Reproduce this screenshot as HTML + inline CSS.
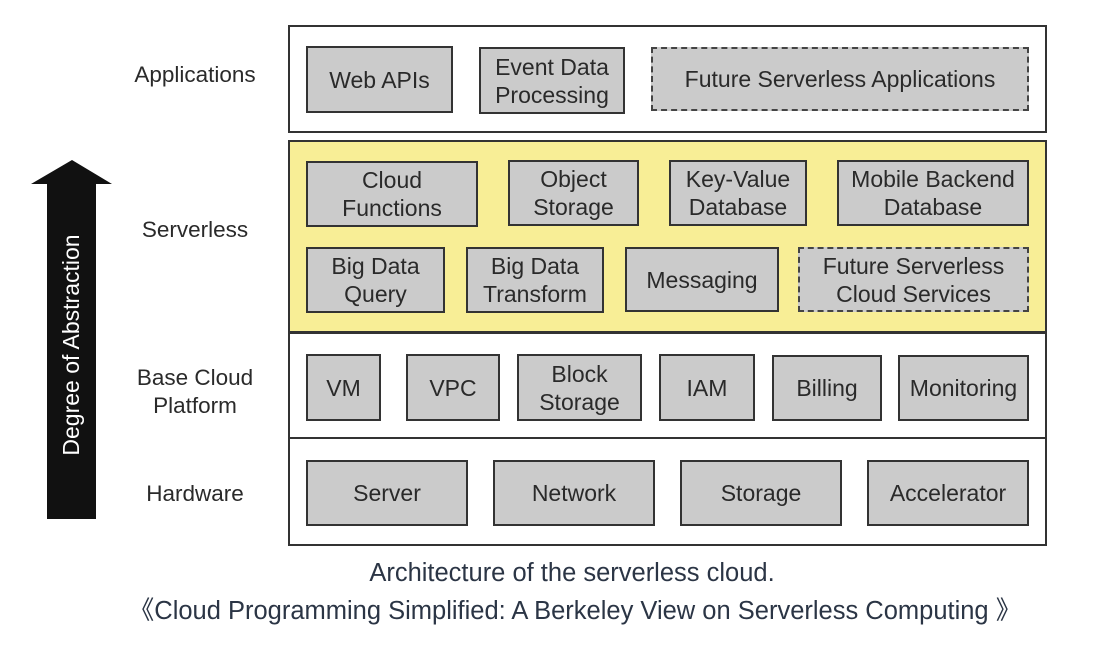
<!DOCTYPE html>
<html><head><meta charset="utf-8"><style>
body{margin:0;width:1102px;height:648px;background:#fff;position:relative;overflow:hidden;font-family:"Liberation Sans","Noto Sans CJK SC",sans-serif;color:#2a2a2a}
.a{position:absolute;box-sizing:border-box}
.L{border:2px solid #333;background:#fff}
.b{position:absolute;box-sizing:border-box;border:2px solid #333;background:#cbcbcb;display:flex;align-items:center;justify-content:center;text-align:center;font-size:23px;line-height:28px;color:#2a2a2a;white-space:nowrap}
.d{border:2px dashed #444}
.lab{position:absolute;font-size:22.5px;line-height:28px;text-align:center;width:160px}
</style></head><body>
<div class="a L" style="left:288px;top:25px;width:759px;height:108px"></div>
<div class="a" style="left:288px;top:140px;width:759px;height:193px;border:2px solid #333;background:#f8ee96"></div>
<div class="a L" style="left:288px;top:332px;width:759px;height:107px"></div>
<div class="a L" style="left:288px;top:437px;width:759px;height:109px"></div>

<div class="b" style="left:306px;top:46px;width:147px;height:67px">Web APIs</div>
<div class="b" style="left:479px;top:47px;width:146px;height:67px">Event Data<br>Processing</div>
<div class="b d" style="left:651px;top:47px;width:378px;height:64px">Future Serverless Applications</div>

<div class="b" style="left:306px;top:161px;width:172px;height:66px">Cloud<br>Functions</div>
<div class="b" style="left:508px;top:160px;width:131px;height:66px">Object<br>Storage</div>
<div class="b" style="left:669px;top:160px;width:138px;height:66px">Key-Value<br>Database</div>
<div class="b" style="left:837px;top:160px;width:192px;height:66px">Mobile Backend<br>Database</div>
<div class="b" style="left:306px;top:247px;width:139px;height:66px">Big Data<br>Query</div>
<div class="b" style="left:466px;top:247px;width:138px;height:66px">Big Data<br>Transform</div>
<div class="b" style="left:625px;top:247px;width:154px;height:65px">Messaging</div>
<div class="b d" style="left:798px;top:247px;width:231px;height:65px">Future Serverless<br>Cloud Services</div>

<div class="b" style="left:306px;top:354px;width:75px;height:67px">VM</div>
<div class="b" style="left:406px;top:354px;width:94px;height:67px">VPC</div>
<div class="b" style="left:517px;top:354px;width:125px;height:67px">Block<br>Storage</div>
<div class="b" style="left:659px;top:354px;width:96px;height:67px">IAM</div>
<div class="b" style="left:772px;top:355px;width:110px;height:66px">Billing</div>
<div class="b" style="left:898px;top:355px;width:131px;height:66px">Monitoring</div>

<div class="b" style="left:306px;top:460px;width:162px;height:66px">Server</div>
<div class="b" style="left:493px;top:460px;width:162px;height:66px">Network</div>
<div class="b" style="left:680px;top:460px;width:162px;height:66px">Storage</div>
<div class="b" style="left:867px;top:460px;width:162px;height:66px">Accelerator</div>

<div class="lab" style="left:115px;top:61px">Applications</div>
<div class="lab" style="left:115px;top:216px">Serverless</div>
<div class="lab" style="left:115px;top:364px">Base Cloud<br>Platform</div>
<div class="lab" style="left:115px;top:480px">Hardware</div>

<svg class="a" style="left:0;top:0" width="130" height="540">
<polygon points="72,160 112,184 96,184 96,519 47,519 47,184 31,184" fill="#111"/>
<text transform="translate(79,345) rotate(-90)" text-anchor="middle" fill="#fff" font-size="23" font-family="Liberation Sans, sans-serif">Degree of Abstraction</text>
</svg>

<div class="a" style="left:0;top:559px;width:1102px;text-align:center;font-size:25.5px;color:#2b3545;padding-left:42px;white-space:nowrap">Architecture of the serverless cloud.</div>
<div class="a" style="left:0;top:590px;width:1102px;text-align:center;font-size:25.5px;color:#2b3545;padding-left:48px;white-space:nowrap">《Cloud Programming Simplified: A Berkeley View on Serverless Computing 》</div>
</body></html>
